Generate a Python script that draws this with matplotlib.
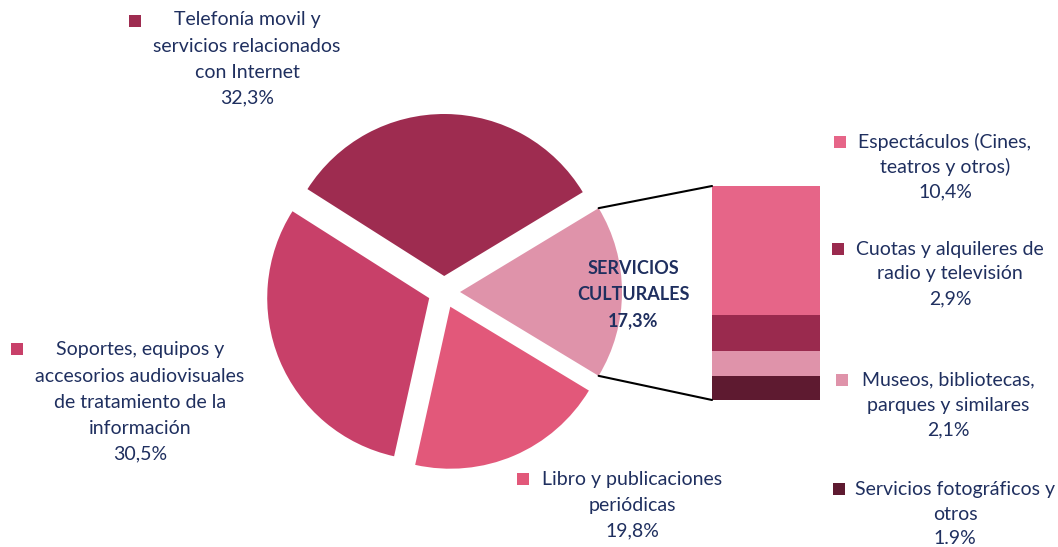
import numpy as np
import matplotlib.pyplot as plt
from matplotlib.patches import ConnectionPatch

W, H = 1058, 547

# main pie
pie_names = ["SERVICIOS\nCULTURALES",
             "Telefonía movil y\nservicios relacionados\ncon Internet",
             "Soportes, equipos y\naccesorios audiovisuales\nde tratamiento de la\ninformación",
             "Libro y publicaciones\nperiódicas"]
pie_values = [17.3, 32.3, 30.5, 19.8]
pie_pct = ["17,3%", "32,3%", "30,5%", "19,8%"]
pie_colors = ["#DF93AA", "#9E2C50", "#C84069", "#E2587A"]

# breakdown of servicios culturales
bar_names = ["Espectáculos (Cines,\nteatros y otros)",
             "Cuotas y alquileres de\nradio y televisión",
             "Museos, bibliotecas,\nparques y similares",
             "Servicios fotográficos y\notros"]
bar_values = [10.4, 2.9, 2.1, 1.9]
bar_pct = ["10,4%", "2,9%", "2,1%", "1.9%"]
bar_colors = ["#E66588", "#9A2A4E", "#DF93AA", "#5E1A30"]

TXT = "#1F2F5F"
FONT = "Lato"
FS = 14

fig = plt.figure(figsize=(W / 100, H / 100), dpi=100)
ax = fig.add_axes([0, 0, 1, 1])

start = -pie_values[0] / sum(pie_values) * 180
wedges, _ = ax.pie(pie_values, colors=pie_colors, startangle=start,
                   center=(444, H - 292), radius=162, explode=[16] * 4,
                   wedgeprops=dict(linewidth=0))
ax.set_xlim(0, W)
ax.set_ylim(0, H)
ax.set_aspect("auto")
ax.axis("off")

# stacked bar
bax = fig.add_axes([712 / W, (H - 400) / H, 108 / W, 214 / H])
bottom = 0
for v, c in zip(bar_values[::-1], bar_colors[::-1]):
    bax.bar(0, v, width=1, bottom=bottom, color=c, linewidth=0)
    bottom += v
bax.set_xlim(-0.5, 0.5)
bax.set_ylim(0, sum(bar_values))
bax.axis("off")

# connector lines
w = wedges[0]
cx, cy = w.center
for th, yb in [(w.theta2, sum(bar_values)), (w.theta1, 0)]:
    p = (cx + w.r * np.cos(np.radians(th)), cy + w.r * np.sin(np.radians(th)))
    con = ConnectionPatch(xyA=p, coordsA=ax.transData, xyB=(-0.5, yb),
                          coordsB=bax.transData, color="black", lw=1.5)
    fig.add_artist(con)


def label(x, y0, lines, sq=None, color=None, step=26, bold=False, fs=FS):
    for i, s in enumerate(lines):
        ax.text(x, H - (y0 + i * step), s, ha="center", va="center",
                fontsize=fs, color=TXT, family=FONT,
                fontweight="bold" if bold else "normal")
    if sq is not None:
        ax.scatter([sq[0]], [H - sq[1]], marker="s", s=66, color=color,
                   linewidths=0)


# centre label
label(633, 269, pie_names[0].split("\n") + [pie_pct[0]], bold=True, fs=13)

# pie labels
label(247, 20, pie_names[1].split("\n") + [pie_pct[1]], sq=(135, 21), color=pie_colors[1])
label(140, 350, pie_names[2].split("\n") + [pie_pct[2]], sq=(17, 349), color=pie_colors[2])
label(632, 479, pie_names[3].split("\n") + [pie_pct[3]], sq=(523, 479), color=pie_colors[3])

# bar labels
bar_pos = [(945, 142, 840, 142), (950, 249, 838, 249), (948, 380, 842, 380), (955, 489, 839, 489)]
for (x, y, sx, sy), n, p, c in zip(bar_pos, bar_names, bar_pct, bar_colors):
    label(x, y, n.split("\n") + [p], sq=(sx, sy), color=c, step=25)

fig.savefig("out.png", dpi=100)
